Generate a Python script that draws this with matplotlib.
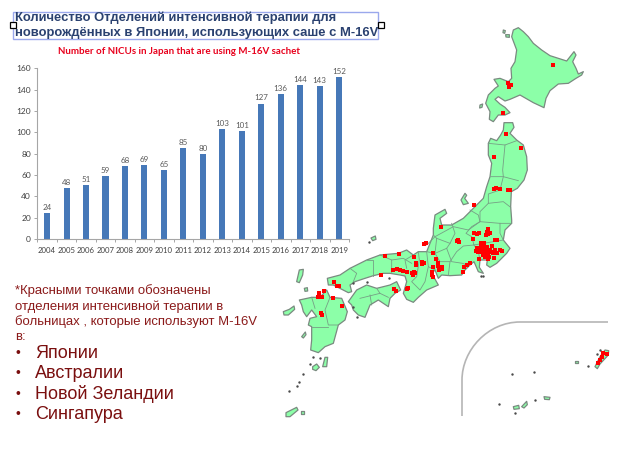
import matplotlib
matplotlib.use("Agg")
import matplotlib.pyplot as plt
from matplotlib.patches import Polygon, Rectangle, PathPatch
from matplotlib.path import Path

years = list(range(2004, 2020))
nicus = [24, 48, 51, 59, 68, 69, 65, 85, 80, 103, 101, 127, 136, 144, 143, 152]

title_lines = ["Количество Отделений интенсивной терапии для",
               "новорождённых в Японии, использующих саше с М-16V"]
subtitle = "Number of NICUs in Japan that are using M-16V sachet"
note_lines = ["*Красными точками обозначены", "отделения интенсивной терапии в",
              "больницах , которые используют М-16V", "в:"]
countries = ["Японии", "Австралии", "Новой Зеландии", "Сингапура"]

# map outlines, in the coords of the crops I read them from
def north(pts):  # hokkaido crop
    return [(470 + x / 3, y / 3) for x, y in pts]
def mid(pts):    # tohoku crop
    return [(420 + x / 3, 120 + y / 3) for x, y in pts]
def south(pts):  # honshu/kyushu crop
    return [(270 + x / 3, 210 + y / 3) for x, y in pts]

hokkaido = north([(145, 83), (160, 95), (175, 110), (190, 130), (215, 150), (240, 167), (265, 175),
                  (290, 183), (312, 155), (318, 165), (308, 185), (318, 205), (325, 222), (340, 215),
                  (335, 225), (318, 235), (295, 250), (265, 252), (240, 272), (228, 295), (222, 323),
                  (190, 308), (150, 285), (120, 298), (105, 303), (85, 290), (75, 298), (90, 312),
                  (105, 322), (120, 338), (105, 345), (85, 345), (70, 365), (58, 358), (60, 335),
                  (47, 310), (55, 285), (75, 265), (85, 258), (72, 238), (90, 235), (115, 245),
                  (125, 235), (123, 205), (135, 185), (140, 150), (125, 110), (130, 90)])
honshu = (mid([(212, 55), (230, 62), (242, 45), (250, 30), (252, 8), (278, 8), (282, 22), (270, 40),
               (290, 60), (310, 75), (320, 110), (322, 150), (312, 180), (292, 205), (274, 215),
               (272, 260), (275, 300)])
          + south([(725, 40), (705, 60), (700, 90), (720, 115), (710, 130), (680, 160), (660, 172),
                   (650, 165), (652, 150), (630, 150), (628, 172), (640, 190), (625, 185), (612, 155),
                   (600, 165), (585, 180), (575, 195), (540, 197), (515, 195), (505, 205), (495, 180),
                   (485, 190), (505, 225), (470, 240), (445, 262), (430, 277), (410, 268), (400, 250),
                   (410, 215), (405, 198), (390, 195), (360, 190), (340, 190), (310, 197), (285, 205),
                   (255, 215), (240, 225), (245, 245), (235, 248), (190, 225), (175, 225), (172, 205),
                   (210, 195), (240, 175), (290, 150), (330, 135), (385, 130), (410, 120), (430, 135),
                   (445, 125), (470, 125), (490, 75), (490, 55)])
          + mid([(45, 285), (75, 268), (80, 280), (60, 295), (65, 315), (95, 315), (130, 295),
                 (165, 260), (190, 235), (200, 200), (210, 170), (215, 130), (205, 105), (205, 70)]))
shikoku = south([(235, 275), (260, 240), (290, 225), (320, 235), (360, 225), (380, 215), (392, 240),
                 (375, 250), (360, 265), (355, 290), (325, 270), (300, 285), (285, 322), (265, 315),
                 (250, 300), (245, 285)])
kyushu = south([(88, 270), (125, 262), (150, 262), (170, 240), (180, 262), (215, 265), (232, 305),
                (225, 330), (205, 345), (190, 400), (165, 410), (145, 428), (122, 420), (125, 390),
                (125, 350), (115, 345), (120, 325), (140, 320), (125, 300), (110, 320), (100, 305),
                (95, 285)])
islands = [north([(100, 90), (106, 92), (104, 100), (99, 98)]),
           north([(107, 104), (118, 104), (118, 112), (108, 111)]),
           north([(30, 315), (38, 312), (36, 322), (29, 324)]),
           mid([(123, 240), (135, 220), (140, 226), (134, 235), (145, 250), (130, 254)]),
           south([(303, 84), (316, 78), (318, 88), (308, 92)]),
           south([(80, 215), (88, 180), (100, 178), (98, 195), (88, 218)]),
           south([(103, 235), (112, 233), (113, 243), (105, 244)]),
           south([(40, 305), (58, 298), (72, 288), (74, 298), (55, 315), (42, 315)]),
           south([(95, 380), (106, 366), (108, 374), (100, 384)]),
           south([(158, 470), (165, 442), (173, 442), (170, 470)]),
           south([(128, 470), (140, 462), (148, 472), (138, 482), (128, 478)]),
           south([(48, 608), (80, 592), (84, 600), (60, 620), (48, 620)]),
           south([(94, 604), (101, 604), (101, 611), (94, 611)]),
           south([(730, 590), (746, 586), (748, 596), (732, 598)]),
           south([(755, 590), (770, 574), (772, 584), (762, 594)]),
           south([(822, 560), (840, 562), (838, 569), (824, 568)]),
           south([(916, 453), (925, 453), (925, 460), (916, 460)]),
           south([(975, 470), (990, 440), (1005, 420), (1016, 422), (1015, 435), (990, 462), (982, 476)])]
specks = south([(297, 96), (128, 440), (150, 445), (120, 462), (100, 493), (88, 517), (80, 528), (58, 544),
                (262, 322), (248, 290), (640, 197), (634, 199), (725, 491), (793, 486), (687, 581), (795, 570),
                (736, 608), (955, 467), (990, 420), (980, 433), (250, 218), (292, 216), (357, 203)])

pref_lines = [mid([(205, 70), (255, 75), (290, 62)]),
              mid([(255, 75), (248, 150), (250, 170), (295, 182)]),
              mid([(212, 170), (250, 170), (240, 210), (205, 222), (205, 250), (250, 245), (272, 262)]),
              mid([(205, 250), (180, 275), (180, 305), (145, 330), (100, 320), (45, 350), (20, 375)]),
              south([(600, 0), (625, 15), (630, 35), (690, 40), (725, 40)]),
              south([(630, 35), (605, 50), (588, 70), (605, 80), (612, 105), (580, 108), (560, 125),
                     (540, 155), (535, 195)]),
              south([(690, 40), (690, 70), (700, 90), (640, 100), (612, 105)]),
              south([(612, 105), (625, 125), (630, 150)]),
              south([(545, 40), (555, 70), (540, 100), (530, 115), (545, 155), (578, 160), (590, 165)]),
              south([(490, 75), (500, 85), (495, 130), (470, 125)]),
              south([(495, 130), (530, 115)]),
              south([(500, 85), (540, 100)]),
              south([(495, 130), (510, 155), (540, 155)]),
              south([(470, 125), (475, 170), (495, 180)]),
              south([(445, 125), (448, 150), (440, 200), (425, 215), (450, 240), (465, 215), (475, 170)]),
              south([(430, 135), (405, 150), (410, 175)]),
              south([(240, 175), (260, 190), (250, 215)]),
              south([(290, 150), (310, 150), (310, 197)]),
              south([(330, 135), (365, 150), (365, 190)]),
              south([(365, 150), (400, 145), (425, 160)]),
              south([(270, 265), (330, 250), (355, 262)]),
              south([(320, 235), (330, 250)]),
              south([(300, 255), (305, 285)]),
              south([(125, 262), (135, 295)]),
              south([(180, 262), (165, 300), (175, 345), (205, 345)]),
              south([(125, 350), (175, 350)])]

red_north = north([(249, 196), (114, 248), (118, 260), (122, 256), (99, 340)])
red_mid = mid([(257, 43), (302, 85), (223, 110), (222, 207), (227, 204), (241, 208), (265, 210), (270, 210),
               (161, 256), (62, 321)])
red_south = south([(512, 50), (468, 100), (463, 102), (565, 90), (560, 92), (568, 97), (612, 70), (620, 72),
                   (628, 70), (655, 58), (652, 65), (660, 68), (648, 75), (655, 72), (682, 90), (675, 90),
                   (608, 87), (632, 100), (643, 100), (665, 108), (622, 115), (630, 118), (640, 115), (650, 120),
                   (660, 120), (625, 125), (635, 125), (645, 130), (655, 128), (665, 125), (675, 120), (690, 120),
                   (682, 128), (640, 135), (650, 140), (658, 140), (628, 148), (655, 148), (672, 145), (695, 122),
                   (490, 130), (498, 148), (433, 140), (438, 160), (438, 166), (455, 155), (463, 158), (455, 163),
                   (505, 160), (510, 170), (503, 168), (515, 170), (517, 178), (508, 180), (490, 172), (485, 185),
                   (487, 195), (490, 200), (432, 185), (430, 195), (425, 188), (435, 190), (412, 185), (398, 182),
                   (390, 180), (382, 178), (370, 180), (345, 137), (388, 132), (333, 196), (600, 158), (590, 165),
                   (583, 172), (578, 185), (372, 237), (378, 242), (415, 235), (410, 238), (193, 216), (200, 228),
                   (208, 228), (148, 248), (162, 243), (145, 260), (155, 260), (190, 263), (215, 287), (153, 308),
                   (157, 314), (1000, 430), (995, 440), (990, 450), (985, 460), (1010, 433),
                   (632, 110), (642, 108), (618, 122), (640, 125), (650, 112), (655, 136), (645, 142), (670, 128)])
red_dots = red_north + red_mid + red_south

W, H = 624, 458
fig = plt.figure(figsize=(W / 100, H / 100), dpi=100)
page = fig.add_axes([0, 0, 1, 1])
page.set_xlim(0, W)
page.set_ylim(H, 0)
page.axis("off")

# map
for poly in [hokkaido, honshu, shikoku, kyushu] + islands:
    page.add_patch(Polygon(poly, closed=True, fc="#8cffa8", ec="#7a8a80", lw=0.9, joinstyle="round"))
for line in pref_lines:
    page.plot(*zip(*line), color="#76a085", lw=0.6)
page.scatter(*zip(*specks), s=3, color="#4a4a4a", marker="o", lw=0)
page.scatter(*zip(*red_dots), s=11, color="#ff0000", marker="s", lw=0, zorder=3)

# inset border
corner = Path([(462, 416), (462, 380), (462, 350), (488, 322), (520, 322), (608, 322)],
              [Path.MOVETO, Path.LINETO, Path.CURVE4, Path.CURVE4, Path.CURVE4, Path.LINETO])
page.add_patch(PathPatch(corner, fc="none", ec="#b5b5b5", lw=1.2))

# selection box round the title
page.add_patch(Rectangle((13, 12), 365, 27, fc="none", ec="#9aa8ec", lw=1))
for hx in (12.5, 380.5):
    page.add_patch(Rectangle((hx - 3, 22), 6, 6, fc="white", ec="black", lw=0.9, zorder=4))

for i, line in enumerate(title_lines):
    page.text(15, 18 + i * 15, line, family="Liberation Sans", weight="bold", size=9.4,
              color="#2a4170", va="center", ha="left")
page.text(179, 51, subtitle, family="Lato", weight="bold", size=7, color="#e8001c",
          va="center", ha="center")

for i, line in enumerate(note_lines):
    page.text(15, 291 + i * 15.3, line, family="Liberation Sans", size=9.45, color="#8b1a1a",
              va="center", ha="left")
for i, name in enumerate(countries):
    y = 353 + i * 20.4
    page.text(15, y, "•", family="Liberation Sans", size=10, color="#7a0f0f", va="center", ha="left")
    page.text(35, y, name, family="Liberation Sans", size=13, color="#7a0f0f", va="center", ha="left")

# bar chart
left, right, top, bottom = 37.3, 349, 68.3, 239
ax = fig.add_axes([left / W, 1 - bottom / H, (right - left) / W, (bottom - top) / H])
ax.patch.set_alpha(0)
pos = list(range(len(years)))
bars = ax.bar(pos, nicus, width=0.31, color="#4678b8")
ax.bar_label(bars, labels=[str(v) for v in nicus], padding=1.5, fontsize=5.8, family="Lato", color="#595959")
ax.set_xlim(-0.5, 15.5)
ax.set_ylim(0, 160)
ax.set_yticks(range(0, 161, 20))
ax.set_xticks(pos)
ax.set_xticklabels(years, family="Lato", fontsize=5.6, color="#404040")
ax.set_xticks([p - 0.5 for p in pos] + [15.5], minor=True)
ax.tick_params(axis="x", which="major", length=0, pad=6)
ax.tick_params(axis="x", which="minor", length=2.5, direction="out", color="#a6a6a6", width=0.7)
ax.tick_params(axis="y", length=2.5, direction="out", color="#a6a6a6", width=0.7, pad=2,
               labelsize=6, labelcolor="#404040")
for lab in ax.get_yticklabels():
    lab.set_family("Lato")
for side in ("top", "right"):
    ax.spines[side].set_visible(False)
for side in ("left", "bottom"):
    ax.spines[side].set_color("#a6a6a6")
    ax.spines[side].set_linewidth(0.8)

fig.savefig("out.png", dpi=100)
